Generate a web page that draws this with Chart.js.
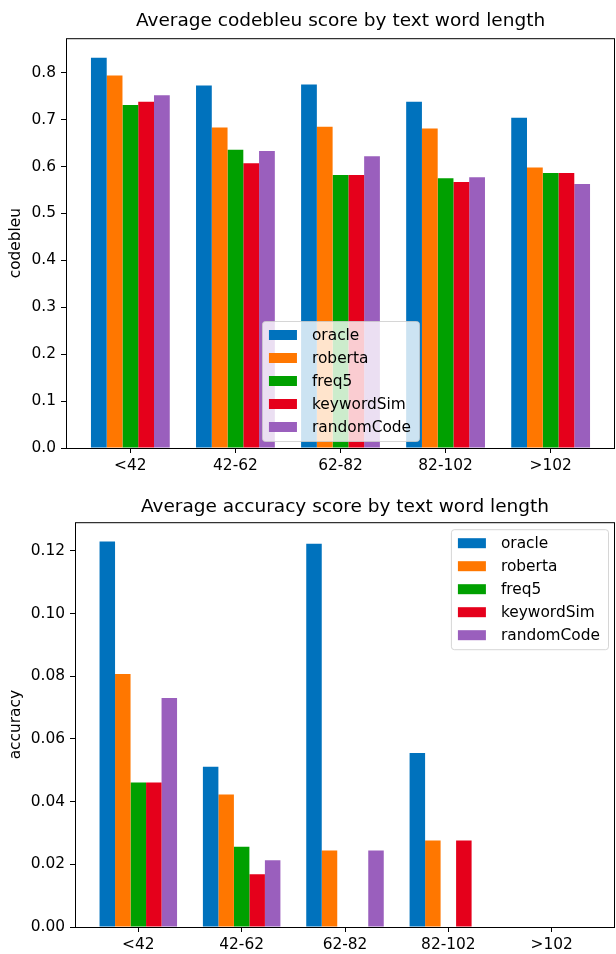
<!DOCTYPE html>
<html>
<head>
<meta charset="utf-8">
<script src="https://cdn.jsdelivr.net/npm/chart.js@4.4.0/dist/chart.umd.min.js"></script>
<style>
  html, body { margin: 0; padding: 0; background: #fff; }
  canvas { display: block; }
</style>
</head>
<body>
<canvas id="codebleuChart" width="616" height="477"></canvas>
<canvas id="accuracyChart" width="616" height="477"></canvas>
<script>
// ** categories / series **
const categories = ["<42", "42-62", "62-82", "82-102", ">102"];
const models = ["oracle", "roberta", "freq5", "keywordSim", "randomCode"];
const modelColors = ["#0072bd", "#ff7700", "#00a000", "#e5001b", "#9a5fbd"];

const codebleuOracle = [0.832, 0.773, 0.775, 0.738, 0.704];
const codebleuRoberta = [0.794, 0.683, 0.685, 0.681, 0.598];
const codebleuFreq5 = [0.731, 0.636, 0.582, 0.575, 0.586];
const codebleuKeywordSim = [0.738, 0.607, 0.582, 0.567, 0.586];
const codebleuRandomCode = [0.752, 0.633, 0.622, 0.577, 0.563];

const accuracyOracle = [0.123, 0.0511, 0.1223, 0.0555, 0];
const accuracyRoberta = [0.0807, 0.0423, 0.0244, 0.0276, 0];
const accuracyFreq5 = [0.0461, 0.0256, 0, 0, 0];
const accuracyKeywordSim = [0.0461, 0.0168, 0, 0.0276, 0];
const accuracyRandomCode = [0.0731, 0.0213, 0.0244, 0, 0];

const codebleuTicks = [0, 0.1, 0.2, 0.3, 0.4, 0.5, 0.6, 0.7, 0.8];
const accuracyTicks = [0, 0.02, 0.04, 0.06, 0.08, 0.1, 0.12];

const FONT = '"DejaVu Sans", Verdana, sans-serif';
const TITLE_SIZE = 18.5;
const TEXT_SIZE = 15.4;

// spines on all four sides, like matplotlib
const frameBox = {
  id: "frameBox",
  afterDatasetsDraw(chart) {
    const { ctx, chartArea: a } = chart;
    ctx.save();
    ctx.strokeStyle = "#000";
    ctx.lineWidth = 1;
    ctx.strokeRect(a.left + 0.5, a.top + 0.5, a.right - a.left - 1, a.bottom - a.top);
    ctx.restore();
  },
};

// matplotlib style legend box inside the axes
const boxLegend = {
  id: "boxLegend",
  afterDraw(chart, args, opts) {
    const { ctx, chartArea: a } = chart;
    const pitch = 23, rowH = 16, padY = 6, padX = 7, handleW = 28, handleH = 10, textOff = 43, padR = 8;
    ctx.save();
    ctx.font = `${TEXT_SIZE}px ${FONT}`;
    const sets = chart.data.datasets;
    const textW = Math.max(...sets.map((d) => ctx.measureText(d.label).width));
    const w = padX + textOff + textW + padR;
    const h = padY * 2 + sets.length * rowH + (sets.length - 1) * (pitch - rowH);
    let x, y;
    if (opts.loc === "upper right") {
      x = a.right - 7 - w;
      y = a.top + 7;
    } else {
      x = (a.left + a.right) / 2 - w / 2;
      y = a.bottom - 7 - h;
    }
    ctx.beginPath();
    ctx.roundRect(x + 0.5, y + 0.5, w, h, 3);
    ctx.fillStyle = "rgba(255,255,255,0.8)";
    ctx.fill();
    ctx.strokeStyle = "rgba(204,204,204,0.8)";
    ctx.lineWidth = 1;
    ctx.stroke();
    sets.forEach((d, i) => {
      const cy = y + padY + rowH / 2 + i * pitch;
      ctx.fillStyle = d.backgroundColor;
      ctx.fillRect(x + padX, cy - handleH / 2, handleW, handleH);
      ctx.fillStyle = "#000";
      ctx.textBaseline = "middle";
      ctx.textAlign = "left";
      ctx.fillText(d.label, x + padX + textOff, cy + 1);
    });
    ctx.restore();
  },
};

function makeDatasets(seriesList) {
  return models.map((name, i) => ({
    label: name,
    data: seriesList[i].map((v, j) => ({ x: j, y: v })),
    backgroundColor: modelColors[i],
    borderWidth: 0,
    categoryPercentage: 0.75,
    barPercentage: 1,
  }));
}

function addBarChart(canvasId, cfg) {
  const ctx = document.getElementById(canvasId).getContext("2d");
  const allValues = cfg.series.flat();
  return new Chart(ctx, {
    type: "bar",
    data: { datasets: makeDatasets(cfg.series) },
    plugins: [frameBox, boxLegend],
    options: {
      responsive: false,
      animation: false,
      devicePixelRatio: 1,
      layout: { padding: { left: 0, right: 1, top: 0, bottom: 0 } },
      plugins: {
        legend: { display: false },
        tooltip: { enabled: false },
        title: {
          display: true,
          fullSize: false,
          text: cfg.title,
          color: "#000",
          font: { family: FONT, size: TITLE_SIZE, weight: "normal" },
          padding: cfg.titlePadding,
        },
        boxLegend: { loc: cfg.legendLoc },
      },
      scales: {
        x: {
          type: "linear",
          min: -0.6125,
          max: 4.6125,
          offset: false,
          grid: { offset: false, drawOnChartArea: false, drawTicks: true, tickLength: 5, color: "#000" },
          border: { display: false },
          afterBuildTicks: (axis) => {
            axis.ticks = categories.map((_, i) => ({ value: i }));
          },
          afterFit: (scale) => {
            scale.height = cfg.xHeight;
          },
          ticks: {
            color: "#000",
            padding: 4,
            maxRotation: 0,
            font: { family: FONT, size: TEXT_SIZE },
            callback: (value) => categories[value],
          },
        },
        y: {
          min: 0,
          max: Math.max(...allValues) * 1.05,
          grid: { drawOnChartArea: false, drawTicks: true, tickLength: 5, color: "#000" },
          border: { display: false },
          afterBuildTicks: (axis) => {
            axis.ticks = cfg.yTicks.map((v) => ({ value: v }));
          },
          afterFit: (scale) => {
            scale.width = cfg.yWidth;
          },
          title: {
            display: true,
            text: cfg.yLabel,
            color: "#000",
            font: { family: FONT, size: TEXT_SIZE },
            padding: { top: 7, bottom: 0 },
          },
          ticks: {
            color: "#000",
            padding: 5,
            font: { family: FONT, size: TEXT_SIZE },
            callback: (value) => value.toFixed(cfg.decimals),
          },
        },
      },
    },
  });
}

addBarChart("codebleuChart", {
  title: "Average codebleu score by text word length",
  yLabel: "codebleu",
  series: [codebleuOracle, codebleuRoberta, codebleuFreq5, codebleuKeywordSim, codebleuRandomCode],
  yTicks: codebleuTicks,
  decimals: 1,
  legendLoc: "lower center",
  titlePadding: { top: 10, bottom: 6 },
  yWidth: 66,
  xHeight: 29,
});

addBarChart("accuracyChart", {
  title: "Average accuracy score by text word length",
  yLabel: "accuracy",
  series: [accuracyOracle, accuracyRoberta, accuracyFreq5, accuracyKeywordSim, accuracyRandomCode],
  yTicks: accuracyTicks,
  decimals: 2,
  legendLoc: "upper right",
  titlePadding: { top: 19, bottom: 4 },
  yWidth: 75,
  xHeight: 27,
});
</script>
</body>
</html>
